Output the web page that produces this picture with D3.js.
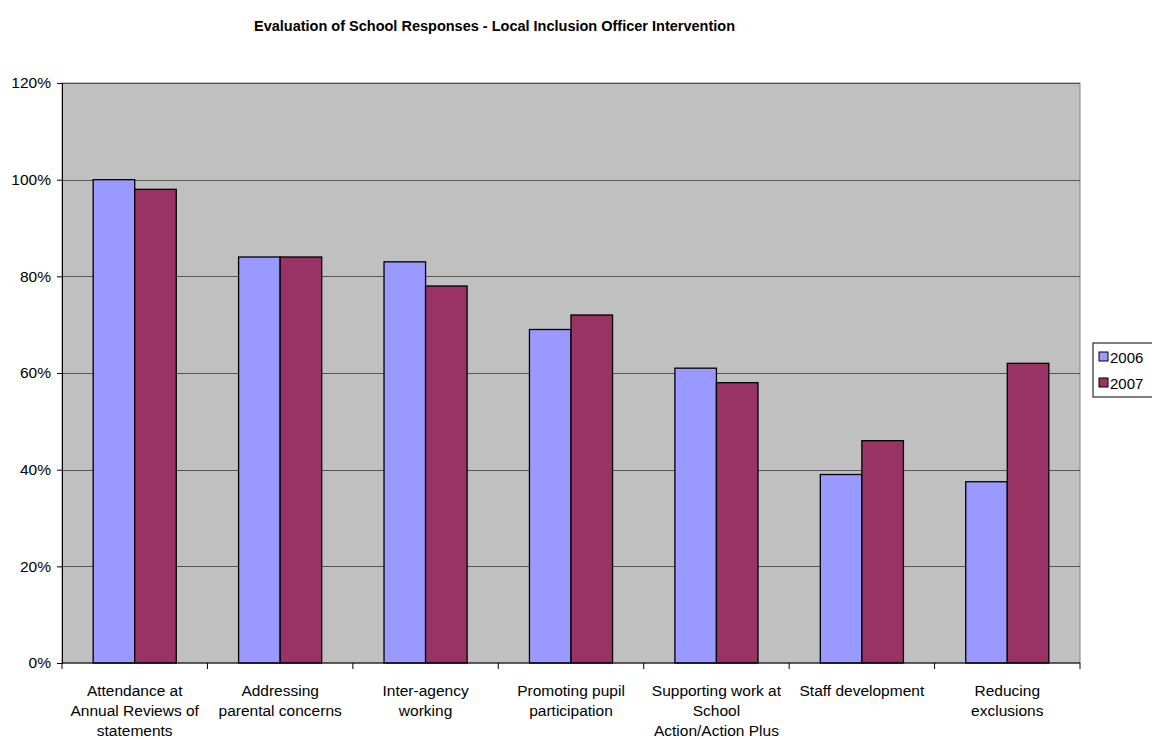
<!DOCTYPE html>
<html>
<head>
<meta charset="utf-8">
<script src="https://cdn.jsdelivr.net/npm/d3@7"></script>
<style>
  body { margin: 0; background: #fff; }
  text { font-family: Arial, "Liberation Sans", sans-serif; fill: #000; }
</style>
</head>
<body>
<svg id="chart" width="1152" height="739"></svg>
<script>
// chart data
const categories = [
    ['Attendance at', 'Annual Reviews of', 'statements'],
    ['Addressing', 'parental concerns'],
    ['Inter-agency', 'working'],
    ['Promoting pupil', 'participation'],
    ['Supporting work at', 'School', 'Action/Action Plus'],
    ['Staff development'],
    ['Reducing', 'exclusions']
];
const seriesNames = ['2006', '2007'];
const values2006 = [100, 84, 83, 69, 61, 39, 37.5];
const values2007 = [98, 84, 78, 72, 58, 46, 62];
const yTicks = [0, 20, 40, 60, 80, 100, 120];
const colors = ['#9999ff', '#993366'];

const margin = {top: 83, right: 72, bottom: 76, left: 62};
const width = 1152 - margin.left - margin.right,
      height = 739 - margin.top - margin.bottom;

const svg = d3.select('#chart');

// title sits left of centre, as in the original
svg.append('text')
    .attr('x', 494.5)
    .attr('y', 31)
    .attr('text-anchor', 'middle')
    .style('font-size', '14.5px')
    .style('font-weight', 'bold')
    .text('Evaluation of School Responses - Local Inclusion Officer Intervention');

const g = svg.append('g')
    .attr('transform', `translate(${margin.left},${margin.top})`);

const x = d3.scaleBand()
    .domain(d3.range(categories.length))
    .range([0, width]);

const xInner = d3.scaleBand()
    .domain(seriesNames)
    .range([0, x.bandwidth()])
    .paddingInner(0)
    .paddingOuter(0.75);

const y = d3.scaleLinear()
    .domain([0, 120])
    .range([height, 0]);

// plot background
g.append('rect')
    .attr('width', width)
    .attr('height', height)
    .attr('fill', '#c0c0c0')
    .attr('stroke', '#808080')
    .attr('stroke-width', 1);

// gridlines
g.selectAll('.grid')
    .data(yTicks.slice(1))
    .enter().append('line')
    .attr('x1', 0)
    .attr('x2', width)
    .attr('y1', d => Math.round(y(d)) + 0.5)
    .attr('y2', d => Math.round(y(d)) + 0.5)
    .attr('stroke', '#555')
    .attr('stroke-width', 1);

// bars
const series = [values2006, values2007];
const groups = g.selectAll('.grp')
    .data(categories)
    .enter().append('g')
    .attr('transform', (d, i) => `translate(${x(i)},0)`);

groups.selectAll('rect')
    .data((d, i) => seriesNames.map((s, j) => ({s: s, v: series[j][i], c: colors[j]})))
    .enter().append('rect')
    .attr('x', d => xInner(d.s))
    .attr('y', d => y(d.v))
    .attr('width', xInner.bandwidth())
    .attr('height', d => height - y(d.v))
    .attr('fill', d => d.c)
    .attr('stroke', '#000')
    .attr('stroke-width', 1.3);

// y axis
const yAxis = g.append('g')
    .call(d3.axisLeft(y).tickValues(yTicks).tickSize(5).tickFormat(d => d + '%'));
yAxis.select('.domain').attr('stroke', '#000');
yAxis.selectAll('text').style('font-size', '15.5px').attr('x', -11);

// x axis
const xAxis = g.append('g')
    .attr('transform', `translate(0,${height})`);
xAxis.append('line')
    .attr('x1', 0).attr('x2', width)
    .attr('stroke', '#000');
xAxis.selectAll('.tick')
    .data(d3.range(categories.length + 1))
    .enter().append('line')
    .attr('x1', d => d * x.step())
    .attr('x2', d => d * x.step())
    .attr('y1', 0).attr('y2', 6)
    .attr('stroke', '#000');

xAxis.selectAll('.lbl')
    .data(categories)
    .enter().append('text')
    .attr('text-anchor', 'middle')
    .attr('transform', (d, i) => `translate(${x(i) + x.bandwidth() / 2},0)`)
    .style('font-size', '15.5px')
    .each(function(lines) {
        d3.select(this).selectAll('tspan')
            .data(lines)
            .enter().append('tspan')
            .attr('x', 0)
            .attr('y', (d, k) => 32.5 + k * 20)
            .text(d => d);
    });

// legend
const legend = svg.append('g')
    .attr('transform', 'translate(1093,343)');
legend.append('rect')
    .attr('width', 62)
    .attr('height', 54)
    .attr('fill', '#fff')
    .attr('stroke', '#000');
seriesNames.forEach((s, j) => {
    legend.append('rect')
        .attr('x', 6)
        .attr('y', 9 + j * 26)
        .attr('width', 9)
        .attr('height', 9)
        .attr('fill', colors[j])
        .attr('stroke', '#000');
    legend.append('text')
        .attr('x', 17)
        .attr('y', 19.5 + j * 26)
        .style('font-size', '15px')
        .text(s);
});
</script>
</body>
</html>
